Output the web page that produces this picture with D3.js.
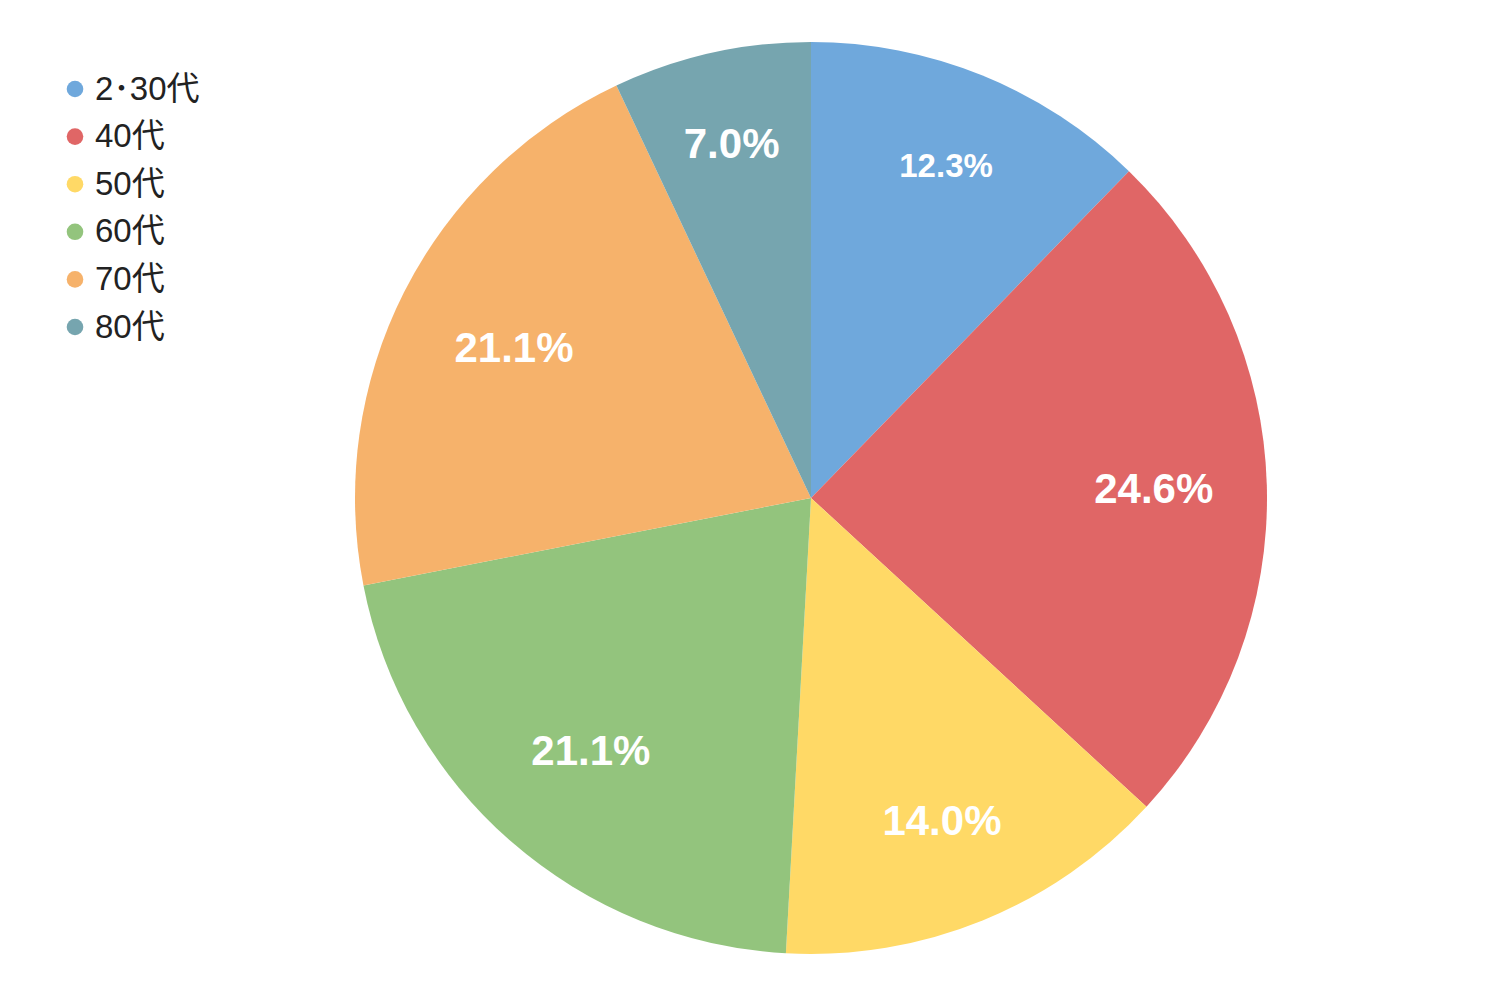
<!DOCTYPE html>
<html>
<head>
<meta charset="utf-8">
<script src="https://cdn.jsdelivr.net/npm/d3@7"></script>
<style>
  body { margin: 0; background: #fff; }
  svg { display: block; font-family: "Liberation Sans", Arial, "Noto Sans CJK JP", sans-serif; }
</style>
</head>
<body>
<div id="chart"></div>
<script>
// age groups and head counts
var categories = ["2･30代", "40代", "50代", "60代", "70代", "80代"];
var counts = [7, 14, 8, 12, 12, 4];
var colors = ["#6fa8dc", "#e06666", "#ffd966", "#93c47d", "#f6b26b", "#76a5af"];

var w = 1492, h = 995;
var cx = 811, cy = 498, radius = 456;
// where each percent label sits, as a share of the radius
var labelPos = [0.787, 0.752, 0.763, 0.735, 0.73, 0.796];

var svg = d3.select("#chart").append("svg")
  .attr("width", w)
  .attr("height", h);

var total = d3.sum(counts);
var color = d3.scaleOrdinal().domain(categories).range(colors);

var pie = d3.pie().sort(null).value(function(d) { return d.value; });
var arcs = pie(categories.map(function(c, i) { return {name: c, value: counts[i]}; }));

var arc = d3.arc().innerRadius(0).outerRadius(radius);

var g = svg.append("g").attr("transform", "translate(" + cx + "," + cy + ")");

g.selectAll("path")
  .data(arcs)
  .enter().append("path")
  .attr("d", arc)
  .attr("fill", function(d) { return color(d.data.name); });

g.selectAll("text")
  .data(arcs)
  .enter().append("text")
  .attr("transform", function(d, i) {
    var r = radius * labelPos[i];
    return "translate(" + d3.arc().innerRadius(r).outerRadius(r).centroid(d) + ")";
  })
  .attr("text-anchor", "middle")
  .attr("dominant-baseline", "central")
  .attr("fill", "#fff")
  .style("font-weight", "bold")
  .style("font-size", function(d, i) { return (i === 0 ? 33 : 42) + "px"; })
  .text(function(d) { return (d.data.value / total * 100).toFixed(1) + "%"; });

// legend
var legend = svg.append("g").attr("transform", "translate(75,89)");
var rows = legend.selectAll("g")
  .data(categories)
  .enter().append("g")
  .attr("transform", function(d, i) { return "translate(0," + (i * 47.6) + ")"; });

rows.append("circle")
  .attr("r", 8.3)
  .attr("fill", function(d) { return color(d); });

rows.append("text")
  .attr("x", 20)
  .attr("y", 10.5)
  .attr("fill", "#222")
  .style("font-size", "33px")
  .text(function(d) { return d; });
</script>
</body>
</html>
